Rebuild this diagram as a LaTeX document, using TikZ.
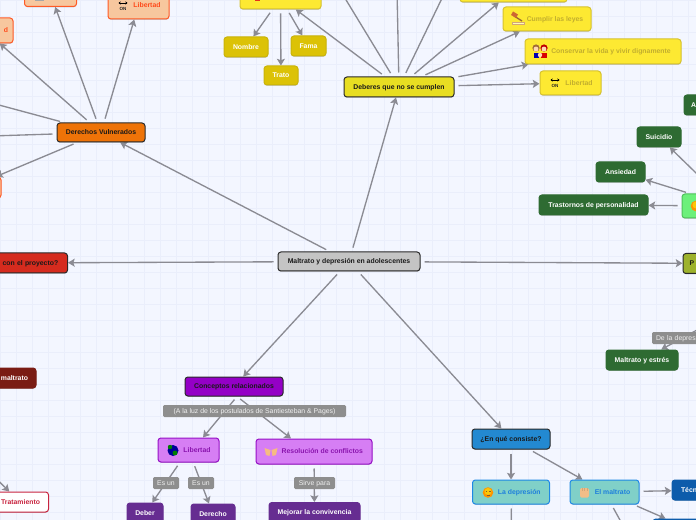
\documentclass[tikz,border=0pt]{standalone}
\usepackage{fontspec}
\setmainfont{Liberation Sans}
\usetikzlibrary{arrows.meta,backgrounds,shadows}
\definecolor{bgc}{HTML}{F3F6FF}
\definecolor{gridc}{HTML}{EAEEFB}
\definecolor{edgec}{HTML}{8B8B93}
\definecolor{darkb}{HTML}{2A2A2A}
\definecolor{labelc}{HTML}{8E8E8E}
\definecolor{cCenter}{HTML}{C4C4C4}
\definecolor{cOrange}{HTML}{EE7308}
\definecolor{cOrangeF}{HTML}{F7C79E}
\definecolor{cOrangeB}{HTML}{FF5A26}
\definecolor{cOrangeT}{HTML}{FF4A1A}
\definecolor{cYellow}{HTML}{E8DE22}
\definecolor{cYellowF}{HTML}{FDE932}
\definecolor{cYellowB}{HTML}{D6C22E}
\definecolor{cYellowT}{HTML}{C2AE2E}
\definecolor{cGold}{HTML}{DCC206}
\definecolor{cGoldB}{HTML}{C9B30A}
\definecolor{cGreen}{HTML}{2E6B32}
\definecolor{cLime}{HTML}{6CF07A}
\definecolor{cLimeB}{HTML}{4FBF5A}
\definecolor{cRed}{HTML}{D52B1E}
\definecolor{cDarkRed}{HTML}{7A1C14}
\definecolor{cCrimson}{HTML}{C8243F}
\definecolor{cPurple}{HTML}{9400C6}
\definecolor{cPurpleF}{HTML}{D67EF4}
\definecolor{cPurpleB}{HTML}{9610C6}
\definecolor{cPurpleT}{HTML}{8A14AE}
\definecolor{cPurpleD}{HTML}{662D91}
\definecolor{cBlue}{HTML}{2389D1}
\definecolor{cBlueF}{HTML}{80D0C8}
\definecolor{cBlueB}{HTML}{1E88E5}
\definecolor{cBlueT}{HTML}{1E7FDC}
\definecolor{cBlueD}{HTML}{0D5CAB}
\definecolor{cOlive}{HTML}{9DB22D}
\newlength\pxu
\setlength\pxu{0.75pt}
\tikzset{
  x=0.75pt,y=-0.75pt,
  box/.style={rectangle,rounded corners=2.2pt,inner sep=0pt,line width=0.75pt,
    font=\bfseries\fontsize{5.15}{6}\selectfont,text height=4.6pt,text depth=1pt,
    drop shadow={shadow xshift=0.1pt,shadow yshift=-0.6pt,opacity=.3,fill=black!60}},
  main/.style={box,draw=darkb,text=black!90},
  central/.style={main,fill=cCenter},
  orangem/.style={main,fill=cOrange},
  yellowm/.style={main,fill=cYellow},
  redm/.style={main,fill=cRed},
  purplem/.style={main,fill=cPurple},
  bluem/.style={main,fill=cBlue},
  olivem/.style={main,fill=cOlive},
  orangec/.style={box,fill=cOrangeF,draw=cOrangeB,text=cOrangeT},
  yellowc/.style={box,fill=cYellowF,draw=cYellowB,text=cYellowT},
  yellowd/.style={box,fill=cGold,draw=cGoldB,text=white},
  greend/.style={box,fill=cGreen,draw=cGreen,text=white},
  greenl/.style={box,fill=cLime,draw=cLimeB,text=black},
  darkred/.style={box,fill=cDarkRed,draw=cDarkRed,text=white},
  whitec/.style={box,fill=white,draw=cCrimson,text=cCrimson},
  purplec/.style={box,fill=cPurpleF,draw=cPurpleB,text=cPurpleT},
  purpled/.style={box,fill=cPurpleD,draw=cPurpleD,text=white},
  bluec/.style={box,fill=cBlueF,draw=cBlueB,text=cBlueT},
  blued/.style={box,fill=cBlueD,draw=cBlueD,text=white},
  edgelabel/.style={rectangle,rounded corners=1pt,fill=labelc,text=black!6,inner sep=0pt,
    font=\fontsize{5.15}{6}\selectfont,text height=4.2pt,text depth=1pt},
  conn/.style={draw=edgec,line width=1pt,-{Stealth[length=5pt,width=6pt,inset=1pt]},shorten <=3pt},
  free/.style={draw=edgec,line width=1pt,shorten <=3pt},
}
\newcommand\nd[6]{\node[#1,minimum width=#4*0.75pt,minimum height=#5*0.75pt] (#2) at (#3) {#6};}
\newcommand\lb[5]{\node[edgelabel,minimum width=#3*0.75pt,minimum height=#4*0.75pt] (#1) at (#2) {#5};}
\newcommand\sk[1]{\hspace*{#1\pxu}}
\newcommand\onicon[1]{\begin{scope}[shift={(#1)}]
  \draw[black,line width=.6pt,{Stealth[length=1.6pt,width=2.4pt]}-{Stealth[length=1.6pt,width=2.4pt]}] (-4.5,-3)--(4.5,-3);
  \node[inner sep=0pt,text=black!85,font=\bfseries\fontsize{3.4}{4}\selectfont] at (0,2.5) {ON};
\end{scope}}
\begin{document}
\begin{tikzpicture}
\clip (0,0) rectangle (696,520);
\useasboundingbox (0,0) rectangle (696,520);
% main nodes
\nd{central}{center}{349,261.5}{142}{19}{Maltrato y depresión en adolescentes}
\nd{orangem}{derechos}{101,132.5}{88}{19}{Derechos Vulnerados}
\nd{yellowm}{deberes}{399,87}{110}{20}{Deberes que no se cumplen}
\node[redm,minimum width=127.5*0.75pt,minimum height=20*0.75pt,text width=109*0.75pt,align=right] (proyecto) at (3.75,263) {s con el proyecto?};
\nd{purplem}{conceptos}{234,386.5}{98}{19}{Conceptos relacionados}
\nd{bluem}{consiste}{511,439}{78}{20}{¿En qué consiste?}
\node[olivem,minimum width=97*0.75pt,minimum height=20*0.75pt,text width=84*0.75pt,align=left] (olive) at (731.5,263.5) {P};
% orange children
\nd{orangec}{derA}{50.5,-6}{52}{25}{}
\nd{orangec}{derB}{138.5,5}{61}{28}{\sk{17}Libertad}
\node[orangec,minimum width=56*0.75pt,minimum height=25*0.75pt,text width=46*0.75pt,align=right] (derC) at (-15,30.5) {d};
\nd{orangec}{derD}{-30,187.5}{62}{21}{}
% yellow children
\nd{yellowc}{dignidad}{280.5,-2}{81}{22}{}
\nd{yellowc}{debA}{513.5,-10}{107}{24}{}
\nd{yellowc}{cumplir}{547,19}{88}{24}{\sk{16}Cumplir las leyes}
\nd{yellowc}{conservar}{603,51.5}{156}{25}{\sk{16}Conservar la vida y vivir dignamente}
\nd{yellowc}{libertadB}{570.5,83}{61}{24}{\sk{17}Libertad}
\nd{yellowd}{nombre}{246,47}{44}{20}{Nombre}
\nd{yellowd}{fama}{308.5,46}{35}{20}{Fama}
\nd{yellowd}{trato}{281,75.5}{34}{19}{Trato}
% greens
\nd{greend}{suicidio}{659,137}{44}{20}{Suicidio}
\nd{greend}{ansiedad}{620.5,172}{49}{20}{Ansiedad}
\nd{greend}{trastornos}{593.5,205}{109}{20}{Trastornos de personalidad}
\node[greend,minimum width=60*0.75pt,minimum height=20*0.75pt,text width=46*0.75pt,align=left] (greenA) at (714,105) {A};
\nd{greenl}{lightg}{730,206}{96}{24}{}
\nd{greend}{estres}{642,360}{72}{20}{Maltrato y estrés}
% left lower
\node[darkred,minimum width=96*0.75pt,minimum height=20*0.75pt,text width=80*0.75pt,align=right] (maltratoL) at (-12,378) {maltrato};
\node[whitec,minimum width=57*0.75pt,minimum height=20*0.75pt,text width=40*0.75pt,align=right] (tratamiento) at (20,502) {Tratamiento};
% concepts
\nd{purplec}{libertadA}{188.5,450}{61}{24}{\sk{17}Libertad}
\nd{purplec}{resolucion}{314,451.5}{116}{25}{\sk{16.6}Resolución de conflictos}
\nd{purpled}{deber}{145,513}{36}{20}{Deber}
\nd{purpled}{derecho}{213,514}{44}{20}{Derecho}
\nd{purpled}{mejorar}{314.5,512.5}{91}{20}{Mejorar la convivencia}
% consiste
\nd{bluec}{depresion}{511,492}{77}{24}{\sk{16.6}La depresión}
\nd{bluec}{maltrato}{604.5,492}{69}{24}{\sk{16}El maltrato}
\node[blued,minimum width=76*0.75pt,minimum height=20*0.75pt,text width=58*0.75pt,align=left] (tecn) at (710,490) {Técn};
\nd{blued}{azul}{692,530}{78}{22}{}
% edge labels
\lb{lbA}{254.5,411}{183}{12}{(A la luz de los postulados de Santiesteban \& Pages)}
\lb{lbB}{166,483}{26}{12}{Es un}
\lb{lbC}{201,483}{26}{12}{Es un}
\lb{lbD}{314.5,483}{41}{12}{Sirve para}
\node[edgelabel,minimum width=60*0.75pt,minimum height=12*0.75pt,text width=52*0.75pt,align=left] (lbE) at (682,338) {De la depres};
% free ends
\coordinate (oA) at (340,-10);
\coordinate (oB) at (397,-10);
\coordinate (oC) at (446,-10);
\coordinate (oD) at (-40,94.5);
\coordinate (oE) at (-40,137);
\coordinate (oF) at (-30,453);
\coordinate (oG) at (511.5,540);
\coordinate (oH) at (631,540);
\coordinate (oI) at (720,317.5);
\begin{scope}[on background layer]
\fill[bgc] (0,0) rectangle (696,520);
\draw[gridc,line width=.35pt,step=12pt] (0,0) grid (696,520);
\draw[conn] (center) -- (derechos);
\draw[conn] (center) -- (deberes);
\draw[conn] (center) -- (proyecto);
\draw[conn] (center) -- (olive);
\draw[conn] (center) -- (conceptos);
\draw[conn] (center) -- (consiste);
\draw[conn] (derechos) -- (derA);
\draw[conn] (derechos) -- (derB);
\draw[conn] (derechos) -- (derC);
\draw[conn] (derechos) -- (derD);
\draw[free] (derechos) -- (oD);
\draw[free] (derechos) -- (oE);
\draw[conn] (deberes) -- (dignidad);
\draw[free] (deberes) -- (oA);
\draw[free] (deberes) -- (oB);
\draw[free] (deberes) -- (oC);
\draw[conn] (deberes) -- (debA);
\draw[conn] (deberes) -- (cumplir);
\draw[conn] (deberes) -- (conservar);
\draw[conn] (deberes) -- (libertadB);
\draw[conn] (dignidad) -- (nombre);
\draw[conn] (dignidad) -- (fama);
\draw[conn] (dignidad) -- (trato);
\draw[conn] (lightg) -- (suicidio);
\draw[conn] (lightg) -- (ansiedad);
\draw[conn] (lightg) -- (trastornos);
\draw[conn] (oI) -- (estres);
\draw[conn] (oF) -- (tratamiento);
\draw[conn] ([xshift=3*0.75pt]conceptos.south) -- ([xshift=14.5*0.75pt]libertadA.north);
\draw[conn] ([xshift=3*0.75pt]conceptos.south) -- ([xshift=-23*0.75pt]resolucion.north);
\draw[conn] (libertadA) -- (deber);
\draw[conn] (libertadA) -- (derecho);
\draw[conn] (resolucion) -- (mejorar);
\draw[conn] (consiste) -- (depresion);
\draw[conn] (consiste) -- (maltrato);
\draw[conn] (maltrato) -- (tecn);
\draw[conn] (maltrato) -- (azul);
\draw[free] (depresion) -- (oG);
\draw[free] (maltrato) -- (oH);
\end{scope}
% icons
\onicon{123,6}
\onicon{555,83}
\fill[black!35] (35,-3) rectangle (44,1);
\fill[red!60!brown] (255,-2) rectangle (260,1.5);
% gavel
\fill[yellow!30!white,draw=brown!70,line width=.2pt] (512,22.5) rectangle (524,24.5);
\draw[brown!80!black,line width=1pt] (514,16) -- (522,21);
\fill[brown!80!red] (513,11.5) -- (518,14.5) -- (516,18) -- (511,15) -- cycle;
% family
\fill[red!75!black] (544,48) circle (3.6);
\fill[blue!70!black] (533.5,53) rectangle (539,58);
\fill[red!85!black] (541,53) rectangle (546.5,58);
\fill[brown!85!black] (536,48) circle (3.6);
\fill[orange!30!white] (536,49) circle (2.4);
\fill[orange!30!white] (544,49) circle (2.4);
\fill[orange!30!white] (540,55) circle (2.2);
% globe
\fill[blue!60!black] (173,450.5) circle (5.5);
\fill[green!50!black] (170,447) circle (2.2);
\fill[green!50!black] (175,453) circle (2.4);
% hands
\fill[orange!45!white!85!brown] (264.5,448) -- (270.5,450) -- (269.5,456) -- (266,455) -- cycle;
\fill[orange!45!white!85!brown] (277.5,448) -- (271.5,450) -- (272.5,456) -- (276,455) -- cycle;
% faces
\fill[orange!85!yellow] (488,492.5) circle (5.3);
\fill[yellow!60!orange] (488,491.5) circle (3.5);
\draw[brown!70!black,line width=.3pt] (485.5,491) -- (487,491) (489,491) -- (490.5,491) (486.5,495) -- (489.5,495);
\fill[orange!85!yellow] (696,206) circle (5.3);
\fill[yellow!60!orange] (696,205) circle (3.5);
% fist
\fill[orange!40!white!80!brown,rounded corners=1pt] (580,488) rectangle (589,497.5);
\draw[brown!70,line width=.25pt] (582.2,487.5)--(582.2,491) (584.5,487.5)--(584.5,491) (586.8,487.5)--(586.8,491);
\end{tikzpicture}
\end{document}
